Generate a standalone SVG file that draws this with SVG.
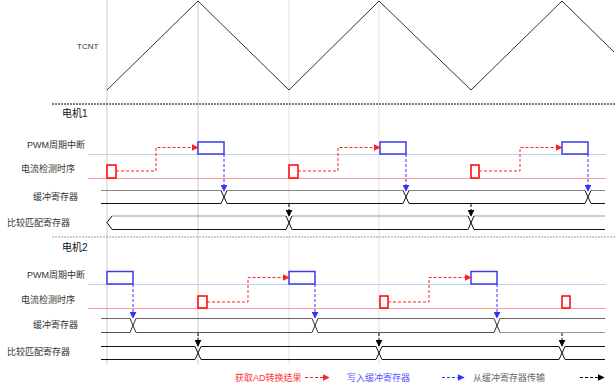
<svg xmlns="http://www.w3.org/2000/svg" width="615" height="388" viewBox="0 0 615 388">
<style>
text{font-family:"Liberation Sans","Noto Sans CJK SC",sans-serif;font-size:9px;fill:#333}
.lbl{text-anchor:end}
.title{font-size:10px;fill:#111}
.vgrid{stroke:#ccc;stroke-width:1}
.vgrid2{stroke:#e0e0e0;stroke-width:1}
.pwmbase{stroke:#b8d4ee;stroke-width:1}
.curbase{stroke:#f99;stroke-width:1}
.pwm{fill:#fff;stroke:#3a3af0;stroke-width:1.5}
.cur{fill:#fff;stroke:#f00;stroke-width:1.5}
.ra{fill:none;stroke:#f22;stroke-width:1;stroke-dasharray:3,2;marker-end:url(#mr)}
.ba{fill:none;stroke:#33f;stroke-width:1;stroke-dasharray:3,2;marker-end:url(#mb)}
.ka{fill:none;stroke:#000;stroke-width:1;stroke-dasharray:3,2;marker-end:url(#mk)}
.bus{fill:none;stroke-width:1}
</style>
<defs>
<marker id="mr" viewBox="0 0 10 10" refX="9" refY="5" markerWidth="7" markerHeight="7" markerUnits="userSpaceOnUse" orient="auto"><path d="M0,0L10,5L0,10z" fill="#f22"/></marker>
<marker id="mb" viewBox="0 0 10 10" refX="9" refY="5" markerWidth="7" markerHeight="7" markerUnits="userSpaceOnUse" orient="auto"><path d="M0,0L10,5L0,10z" fill="#33f"/></marker>
<marker id="mk" viewBox="0 0 10 10" refX="9" refY="5" markerWidth="7" markerHeight="7" markerUnits="userSpaceOnUse" orient="auto"><path d="M0,0L10,5L0,10z" fill="#000"/></marker>
</defs>
<rect width="615" height="388" fill="#fff"/>
<g id="grid">
<line class="vgrid" x1="107" y1="0" x2="107" y2="365"/>
<line class="vgrid" x1="198" y1="0" x2="198" y2="365"/>
<line class="vgrid2" x1="289" y1="0" x2="289" y2="365"/>
<line class="vgrid2" x1="379" y1="0" x2="379" y2="365"/>
<line x1="52" y1="104" x2="615" y2="104" stroke="#000" stroke-dasharray="2,1"/>
<line x1="52" y1="237" x2="615" y2="237" stroke="#999" stroke-dasharray="2,1"/>
</g>
<g id="tcnt">
<text x="77" y="49" style="font-size:8px">TCNT</text>
<polyline points="107,90 198,1 289,90 379,1 471,90 562,1 614,52" fill="none" stroke="#333" stroke-width="1"/>
</g>
<g id="motor1">
<text class="title" x="62" y="117">电机1</text>
<text class="lbl" x="85" y="148">PWM周期中断</text>
<text class="lbl" x="75" y="172">电流检测时序</text>
<text class="lbl" x="78" y="200">缓冲寄存器</text>
<text class="lbl" x="70" y="226">比较匹配寄存器</text>
<line class="pwmbase" x1="88" y1="154.5" x2="606" y2="154.5"/>
<line class="curbase" x1="88" y1="178.5" x2="606" y2="178.5"/>
<rect class="pwm" x="198" y="142" width="26" height="12"/>
<rect class="pwm" x="380" y="142" width="26" height="12"/>
<rect class="pwm" x="562" y="142" width="26" height="12"/>
<rect class="cur" x="107" y="165" width="9" height="13"/>
<rect class="cur" x="289" y="165" width="9" height="13"/>
<rect class="cur" x="471" y="165" width="8" height="13"/>
<path class="bus" stroke="#888" stroke-width="1.5" d="M101 190.5H221M227 190.5H403M409 190.5H585M591 190.5H605"/>
<path class="bus" stroke="#111" d="M101 203.5H221M227 203.5H403M409 203.5H585M591 203.5H605"/>
<path class="bus" stroke="#111" d="M221 190.5L227 203.5M221 203.5L227 190.5M403 190.5L409 203.5M403 203.5L409 190.5M585 190.5L591 203.5M585 203.5L591 190.5"/>
<path class="bus" stroke="#999" stroke-width="1.5" d="M112 216H286M292 216H468M474 216H605"/>
<path class="bus" stroke="#111" d="M107 222.5L112 216M107 222.5L112 229.5H286M292 229.5H468M474 229.5H605"/>
<path class="bus" stroke="#111" d="M286 216L292 229.5M286 229.5L292 216M468 216L474 229.5M468 229.5L474 216"/>
</g>
<g id="motor2">
<text class="title" x="62" y="251">电机2</text>
<text class="lbl" x="85" y="278">PWM周期中断</text>
<text class="lbl" x="75" y="303">电流检测时序</text>
<text class="lbl" x="78" y="328">缓冲寄存器</text>
<text class="lbl" x="70" y="355">比较匹配寄存器</text>
<line class="pwmbase" x1="88" y1="284.5" x2="606" y2="284.5"/>
<line class="curbase" x1="88" y1="308.5" x2="606" y2="308.5"/>
<rect class="pwm" x="107" y="271.5" width="26" height="12.5"/>
<rect class="pwm" x="289" y="271.5" width="26" height="12.5"/>
<rect class="pwm" x="471" y="271.5" width="26" height="12.5"/>
<rect class="cur" x="198" y="296" width="9" height="12"/>
<rect class="cur" x="380" y="296" width="8" height="12"/>
<rect class="cur" x="562" y="296" width="8" height="12"/>
<path class="bus" stroke="#666" stroke-width="1.3" d="M101 318.5H130M136 318.5H312M318 318.5H494M500 318.5H605"/>
<path class="bus" stroke="#555" d="M101 332.5H130M136 332.5H312M318 332.5H494"/>
<path class="bus" stroke="#999" stroke-width="1.5" d="M500 332.5H605"/>
<path class="bus" stroke="#333" d="M130 318.5L136 332.5M130 332.5L136 318.5M312 318.5L318 332.5M312 332.5L318 318.5M494 318.5L500 332.5M494 332.5L500 318.5"/>
<path class="bus" stroke="#111" d="M101 346.5H195M201 346.5H376M382 346.5H559M565 346.5H605M101 359.5H195M201 359.5H376M382 359.5H559M565 359.5H605"/>
<path class="bus" stroke="#111" d="M195 346.5L201 359.5M195 359.5L201 346.5M376 346.5L382 359.5M376 359.5L382 346.5M559 346.5L565 359.5M559 359.5L565 346.5"/>
</g>
<g id="connectors">
<path class="ra" d="M116 171H156V147.5H198"/>
<path class="ra" d="M298 171H338V147.5H380"/>
<path class="ra" d="M479 171H520V147.5H562"/>
<path class="ba" d="M224 154V191"/>
<path class="ba" d="M406 154V191"/>
<path class="ba" d="M588 154V191"/>
<path class="ka" d="M289 204V216"/>
<path class="ka" d="M471 204V216"/>
<path class="ra" d="M207 302H248V277.5H289"/>
<path class="ra" d="M388 302H429V277.5H471"/>
<path class="ba" d="M133 284V318"/>
<path class="ba" d="M315 284V318"/>
<path class="ba" d="M497 284V318"/>
<path class="ka" d="M198 333V346"/>
<path class="ka" d="M379 333V346"/>
<path class="ka" d="M562 333V346"/>
</g>
<g id="legend">
<text x="235" y="381" style="fill:#f33">获取AD转换结果</text>
<path class="ra" d="M305 377.5H329"/>
<text x="347" y="381" style="fill:#55f">写入缓冲寄存器</text>
<path class="ba" d="M442 377.5H464"/>
<text x="473" y="381" style="fill:#666">从缓冲寄存器传输</text>
<path class="ka" d="M580 377.5H604"/>
</g>
</svg>
